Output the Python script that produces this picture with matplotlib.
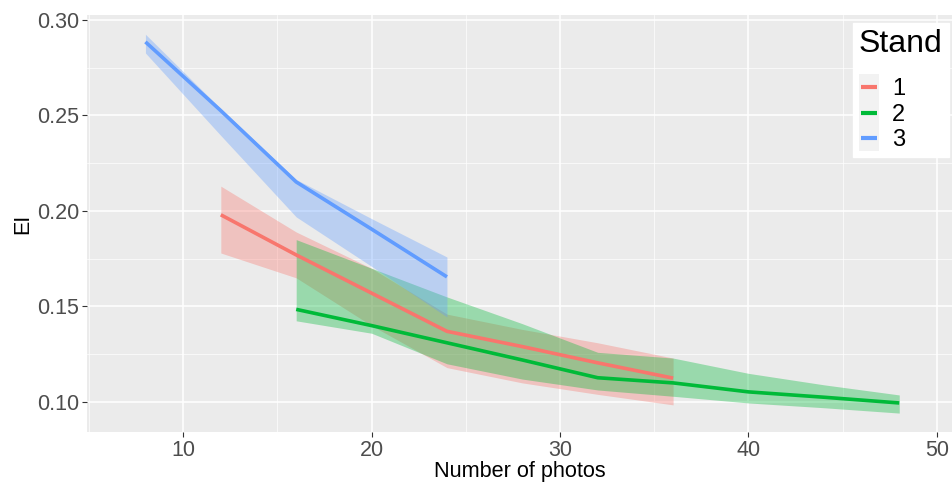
import matplotlib
matplotlib.use("Agg")
import matplotlib.pyplot as plt
from matplotlib.ticker import MultipleLocator, FormatStrFormatter
from matplotlib.legend_handler import HandlerLine2D
from matplotlib.patches import Rectangle
from matplotlib.lines import Line2D

plt.rcParams['font.family'] = ['Liberation Sans', 'DejaVu Sans']

stands = ["1", "2", "3"]
colors = ["#F8766D", "#00BA38", "#619CFF"]

x1 = [12, 16, 20, 24, 28, 32, 36]
y1 = [0.198, 0.177, 0.157, 0.137, 0.129, 0.1205, 0.1125]
lo1 = [0.178, 0.165, 0.140, 0.118, 0.110, 0.104, 0.0985]
hi1 = [0.213, 0.189, 0.170, 0.146, 0.138, 0.131, 0.123]

x2 = [16, 20, 24, 28, 32, 36, 40, 44, 48]
y2 = [0.1485, 0.140, 0.131, 0.122, 0.1127, 0.110, 0.1053, 0.1025, 0.0995]
lo2 = [0.1425, 0.136, 0.120, 0.112, 0.1063, 0.103, 0.0995, 0.097, 0.0942]
hi2 = [0.185, 0.170, 0.155, 0.141, 0.126, 0.123, 0.115, 0.109, 0.1037]

x3 = [8, 12, 16, 20, 24]
y3 = [0.2885, 0.2525, 0.2152, 0.1905, 0.1655]
lo3 = [0.2827, 0.2395, 0.1969, 0.171, 0.1445]
hi3 = [0.2925, 0.2535, 0.2165, 0.196, 0.1759]

xs = [x1, x2, x3]
ys = [y1, y2, y3]
los = [lo1, lo2, lo3]
his = [hi1, hi2, hi3]


class KeyHandler(HandlerLine2D):
    def create_artists(self, legend, orig_handle, xdescent, ydescent,
                       width, height, fontsize, trans):
        yc = (height - ydescent) / 2.0
        half = 0.8 * height
        bg = Rectangle((-xdescent, yc - half), width, 2 * half,
                       facecolor="#F2F2F2", edgecolor="none", transform=trans)
        pad = width * 0.1
        ln = Line2D([-xdescent + pad, -xdescent + width - pad], [yc, yc],
                    color=orig_handle.get_color(), linewidth=3.0,
                    solid_capstyle="butt", transform=trans)
        return [bg, ln]


fig = plt.figure(figsize=(9.52, 4.83), dpi=100)
ax = fig.add_axes([0.0914, 0.1056, 0.9086, 0.8634])
ax.set_facecolor("#EBEBEB")
for s in ax.spines.values():
    s.set_visible(False)

ax.set_xlim(4.9, 50.8)
ax.set_ylim(0.0843, 0.3026)
ax.xaxis.set_major_locator(MultipleLocator(10))
ax.xaxis.set_minor_locator(MultipleLocator(5))
ax.yaxis.set_major_locator(MultipleLocator(0.05))
ax.yaxis.set_minor_locator(MultipleLocator(0.025))
ax.yaxis.set_major_formatter(FormatStrFormatter("%.2f"))
ax.grid(which="major", color="white", linewidth=1.1)
ax.grid(which="minor", color="white", linewidth=0.5)
ax.set_axisbelow(True)
ax.tick_params(which="minor", length=0)
ax.tick_params(which="major", length=3.5, color="#333333", labelsize=15.5,
               labelcolor="#4D4D4D", pad=2)

for x, y, lo, hi, c in zip(xs, ys, los, his, colors):
    ax.fill_between(x, lo, hi, color=c, alpha=0.35, linewidth=0, zorder=2)
handles = []
for x, y, c, s in zip(xs, ys, colors, stands):
    h, = ax.plot(x, y, color=c, linewidth=2.6, zorder=3, label=s,
                 solid_capstyle="butt")
    handles.append(h)

ax.set_xlabel("Number of photos", fontsize=15.6, labelpad=0)
ax.set_ylabel("EI", fontsize=15.5, labelpad=3)

leg = fig.legend(handles=handles, labels=stands, title="Stand",
                 loc="upper left", bbox_to_anchor=(853 / 952, 1 - 23 / 483),
                 bbox_transform=fig.transFigure,
                 fontsize=17, title_fontsize=23, frameon=True, fancybox=False,
                 edgecolor="white", facecolor="white", framealpha=1,
                 handlelength=0.85, handletextpad=0.55, labelspacing=0.15,
                 borderpad=0.25, borderaxespad=0,
                 handler_map={Line2D: KeyHandler()})
leg._legend_box.align = "left"
leg._legend_box.sep = 14

fig.savefig("out.png", dpi=100, facecolor="white")
